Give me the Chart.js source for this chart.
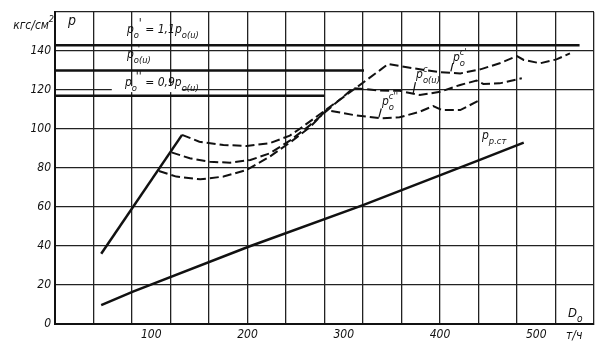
<!DOCTYPE html>
<html>
<head>
<meta charset="utf-8">
<script src="https://cdn.jsdelivr.net/npm/chart.js@4.4.1/dist/chart.umd.min.js"></script>
<style>
  html, body { margin: 0; padding: 0; background: #fff; }
  canvas { display: block; }
</style>
</head>
<body>
<canvas id="chartDavlenie" width="604" height="352"></canvas>
<script>
const FONT = "'Liberation Sans Narrow', 'DejaVu Sans Condensed', 'Liberation Sans', sans-serif";
const INK = '#111';

// расход пара D0 (т/ч) и давление p (кгс/см2)
const slideD = [48, 132];
const slideP = [36, 97];

const upperD = [132, 150, 175, 199, 223, 244, 254, 300, 338, 346, 358, 379, 400, 421, 442, 462, 480, 487, 504, 521, 535];
const upperP = [97, 93.5, 91.8, 91.3, 92.7, 96.6, 100, 116.5, 130.3, 133.3, 132.3, 130.6, 129.1, 128.5, 130.6, 133.7, 137.4, 135.4, 133.7, 135.7, 138.8];

const middleD = [121, 140, 161, 182, 203, 223, 244, 265, 310, 338, 358, 379, 400, 421, 438, 445, 462, 485];
const middleP = [88, 85, 83.2, 82.7, 84.1, 87.5, 94, 102, 121, 119.7, 119.6, 117.4, 119.1, 122.6, 124.8, 123.1, 123.4, 126];

const lowerD = [108, 126, 151, 175, 199, 223, 244, 265, 282, 310, 338, 358, 379, 393, 402, 421, 440];
const lowerP = [78.5, 75.6, 74.2, 75.6, 79, 85.8, 93, 101, 109.7, 107.2, 105.5, 106, 108.9, 111.8, 109.7, 109.7, 114.5];

const stD = [48, 81, 201, 320, 442, 487];
const stP = [9.7, 16.6, 39.6, 61, 84.3, 93];

// p'0 = 1,1 p0(u), p0(u), p''0 = 0,9 p0(u)
const levelP = [143, 130, 117];
const levelEnd = [545, 321, 280];

const xTickLabels = [100, 200, 300, 400, 500];
const yTickLabels = [0, 20, 40, 60, 80, 100, 120, 140];

function pts(xs, ys) {
  return xs.map((v, i) => ({ x: v, y: ys[i] }));
}

function solid(data) {
  return { data, borderColor: INK, borderWidth: 2.5, pointRadius: 0, tension: 0 };
}
function dashed(data) {
  return { data, borderColor: INK, borderWidth: 2, borderDash: [9, 4], pointRadius: 0, tension: 0 };
}

// текст с индексами: p, нижний и верхний индексы
function drawRuns(ctx, x, y, runs, size) {
  let cx = x;
  let lastStart = x;
  runs.forEach((r) => {
    const s = r.sub || r.sup ? size * (r.big ? 1 : 0.78) : size;
    ctx.font = `italic ${s}px ${FONT}`;
    const w = ctx.measureText(r.t).width;
    const sx = (r.stack ? lastStart : cx) + (r.dx || 0);
    const dy = r.sub ? size * 0.42 : r.sup ? -size * 0.5 : 0;
    ctx.fillText(r.t, sx, y + dy);
    if (r.stack) {
      cx = Math.max(cx, sx + w);
    } else {
      lastStart = sx;
      cx = sx + w;
    }
  });
}

const podpisi = {
  id: 'podpisi',
  beforeDatasetsDraw(chart) {
    const { ctx, scales: { x, y } } = chart;
    // разрыв сетки под надписью p''0
    ctx.save();
    ctx.fillStyle = '#fff';
    ctx.fillRect(x.getPixelForValue(59), y.getPixelForValue(122), 70, 6);
    ctx.restore();
  },
  afterDatasetsDraw(chart) {
    const { ctx, chartArea, scales: { x, y } } = chart;
    ctx.save();
    ctx.fillStyle = INK;
    ctx.strokeStyle = INK;
    ctx.textBaseline = 'alphabetic';
    ctx.textAlign = 'left';
    const px = (d) => x.getPixelForValue(d);
    const py = (p) => y.getPixelForValue(p);

    drawRuns(ctx, px(13.5), py(153.3), [{ t: 'p' }], 14);
    drawRuns(ctx, px(74.8), py(149.2), [
      { t: 'p' }, { t: 'o', sub: true }, { t: "'", sup: true, big: true, stack: true, dx: 5 },
      { t: ' = 1,1p' }, { t: 'o(u)', sub: true },
    ], 12);
    drawRuns(ctx, px(74.8), py(136.4), [
      { t: 'p' }, { t: 'o(u)', sub: true }, { t: "'", sup: true, stack: true, dx: 4 },
    ], 12);
    drawRuns(ctx, px(72.7), py(122.1), [
      { t: 'p' }, { t: 'o', sub: true }, { t: "''", sup: true, big: true, stack: true, dx: 4 },
      { t: ' = 0,9p' }, { t: 'o(u)', sub: true },
    ], 12);

    drawRuns(ctx, px(413.5), py(134.9), [
      { t: 'p' }, { t: 'o', sub: true }, { t: "c'", sup: true, stack: true },
    ], 12);
    drawRuns(ctx, px(375.1), py(126.2), [
      { t: 'p' }, { t: 'o(u)', sub: true }, { t: 'c', sup: true, stack: true },
    ], 12);
    drawRuns(ctx, px(339.7), py(112.3), [
      { t: 'p' }, { t: 'o', sub: true }, { t: "c''", sup: true, stack: true },
    ], 12);
    drawRuns(ctx, px(443.6), py(94.9), [{ t: 'p' }, { t: 'р.ст', sub: true }], 12);

    // выноски
    ctx.lineWidth = 1.2;
    [[411.3, 129.5, 413.3, 133.8], [372, 118, 374.5, 124], [336.5, 106, 339, 110.5]].forEach((l) => {
      ctx.beginPath();
      ctx.moveTo(px(l[0]), py(l[1]));
      ctx.lineTo(px(l[2]), py(l[3]));
      ctx.stroke();
    });

    // подписи осей
    drawRuns(ctx, px(533), py(3.6), [{ t: 'D' }, { t: 'o', sub: true }], 13);
    ctx.font = `italic 12px ${FONT}`;
    ctx.fillText('т/ч', chartArea.right - 28, chartArea.bottom + 15);
    ctx.textAlign = 'right';
    ctx.font = `italic 12px ${FONT}`;
    ctx.fillText('кгс/см', chartArea.left - 6, chartArea.top + 17);
    ctx.font = `italic 9px ${FONT}`;
    ctx.fillText('2', chartArea.left - 1, chartArea.top + 10);
    ctx.restore();
  },
};

const ctx = document.getElementById('chartDavlenie').getContext('2d');
// eslint-disable-next-line no-undef
new Chart(ctx, {
  type: 'line',
  data: {
    datasets: [
      solid(pts(slideD, slideP)),
      dashed(pts(upperD, upperP)),
      dashed(pts(middleD, middleP)),
      dashed(pts(lowerD, lowerP)),
      solid(pts(stD, stP)),
      ...levelP.map((p, i) => solid(pts([0, levelEnd[i]], [p, p]))),
    ],
  },
  options: {
    responsive: false,
    animation: false,
    layout: { padding: { top: 12, right: 10, left: 0, bottom: 0 } },
    plugins: {
      legend: { display: false },
      tooltip: { enabled: false },
    },
    scales: {
      x: {
        type: 'linear',
        min: 0,
        max: 560,
        afterFit: (s) => { s.height = 28; },
        border: { color: INK, width: 2 },
        grid: {
          drawTicks: false,
          lineWidth: 1.3,
          color: (c) => (c.tick && c.tick.value % 40 === 0 ? '#222' : 'rgba(0,0,0,0)'),
        },
        ticks: {
          stepSize: 20,
          autoSkip: false,
          maxRotation: 0,
          padding: 4,
          color: INK,
          font: { family: FONT, size: 12, style: 'italic' },
          callback: (v) => (xTickLabels.includes(v) ? String(v) : ''),
        },
      },
      y: {
        min: 0,
        max: 160,
        afterFit: (s) => { s.width = 55; },
        border: { color: INK, width: 2 },
        grid: { drawTicks: false, lineWidth: 1.3, color: '#222' },
        ticks: {
          stepSize: 20,
          padding: 4,
          color: INK,
          font: { family: FONT, size: 12, style: 'italic' },
          callback: (v) => (yTickLabels.includes(v) ? String(v) : ''),
        },
      },
    },
  },
  plugins: [podpisi],
});
</script>
</body>
</html>
